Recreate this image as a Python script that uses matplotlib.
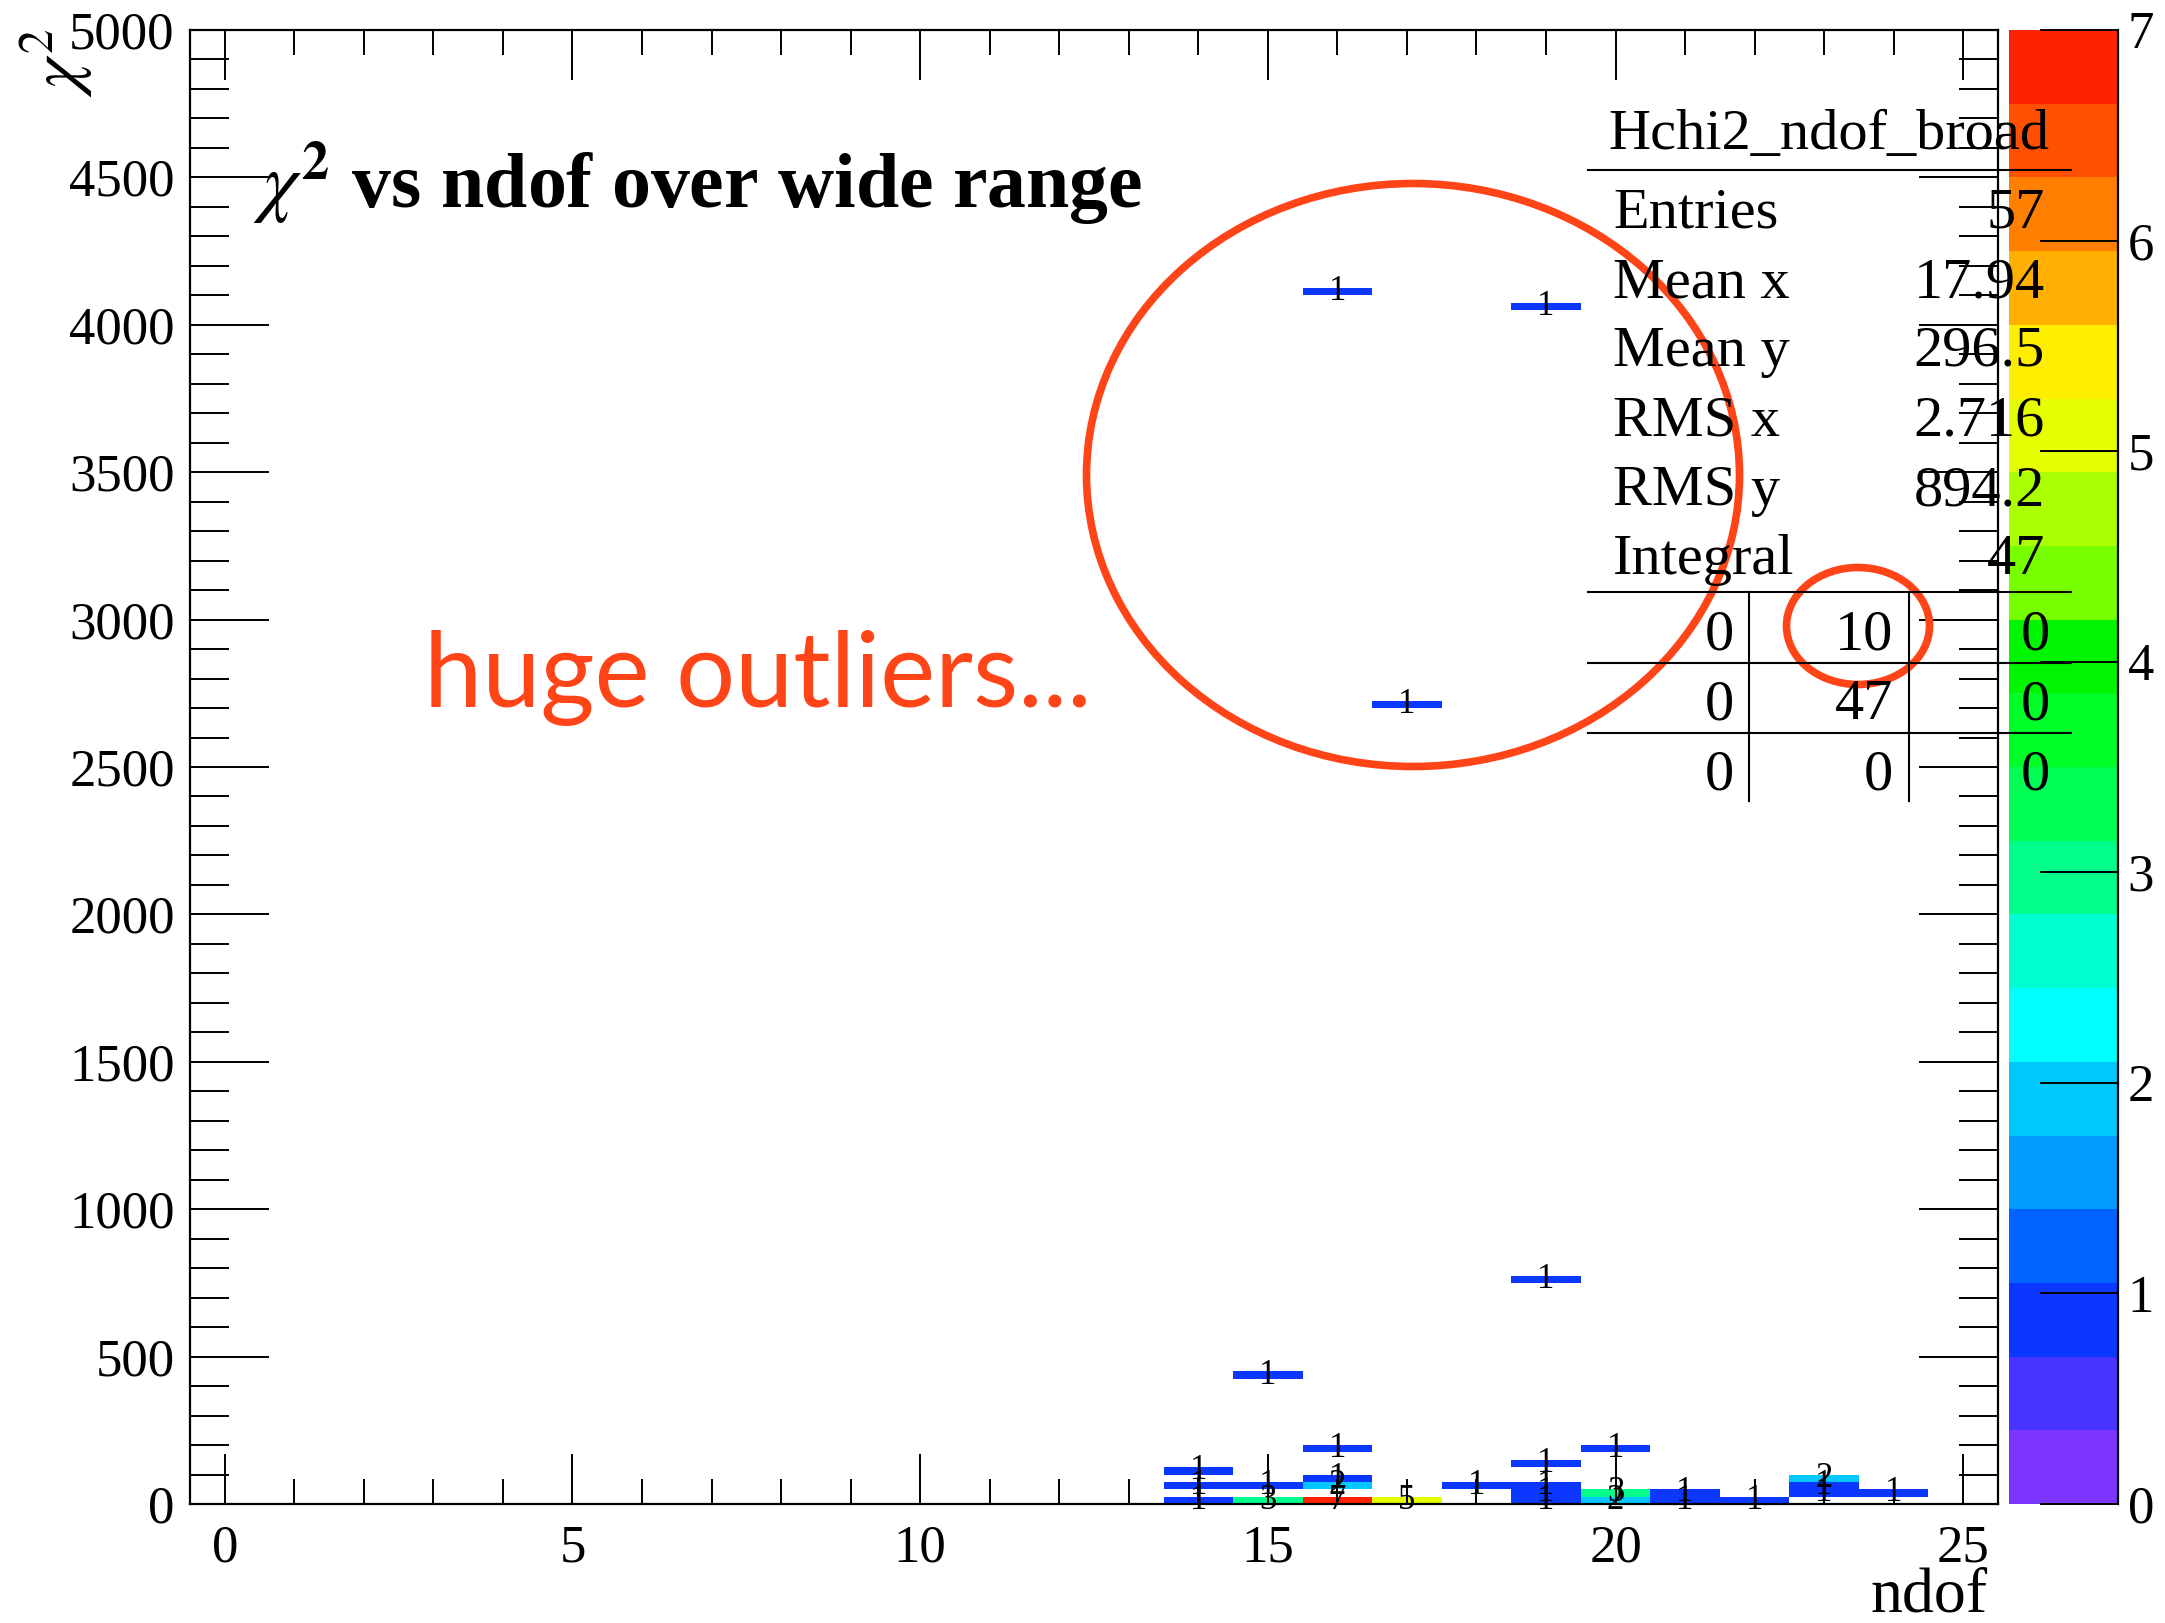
import numpy as np
import matplotlib
matplotlib.use("Agg")
import matplotlib.pyplot as plt
from matplotlib.colors import ListedColormap, BoundaryNorm
from matplotlib.patches import Ellipse
from matplotlib.lines import Line2D
from matplotlib.ticker import MultipleLocator

# ---- histogram content: non-empty (ndof, chi2) cells ----
cell_ndof = [14, 14, 14,
             15, 15, 15,
             16, 16, 16, 16, 16,
             17, 17,
             18,
             19, 19, 19, 19, 19, 19,
             20, 20, 20,
             21, 21,
             22,
             23, 23, 23,
             24]
cell_chi2 = [12.5, 62.5, 112.5,
             12.5, 62.5, 437.5,
             12.5, 62.5, 87.5, 187.5, 4112.5,
             12.5, 2712.5,
             62.5,
             12.5, 37.5, 62.5, 137.5, 762.5, 4062.5,
             12.5, 37.5, 187.5,
             12.5, 37.5,
             12.5,
             37.5, 62.5, 87.5,
             37.5]
cell_count = [1, 1, 1,
              3, 1, 1,
              7, 2, 1, 1, 1,
              5, 1,
              1,
              1, 1, 1, 1, 1, 1,
              2, 3, 1,
              1, 1,
              1,
              1, 1, 2,
              1]

x_ticks = [0, 5, 10, 15, 20, 25]
y_ticks = list(range(0, 5001, 500))
z_ticks = list(range(0, 8))

# statistics box
stats_title = "Hchi2_ndof_broad"
stats_names = ["Entries", "Mean x", "Mean y", "RMS x", "RMS y", "Integral"]
stats_values = ["57", "17.94", "296.5", "2.716", "894.2", "47"]
overflow_table = [["0", "10", "0"],
                  ["0", "47", "0"],
                  ["0", "0", "0"]]

# 20-level rainbow palette (violet -> red)
palette = ["#7b35ff", "#4733ff", "#0b37ff", "#0063ff", "#009cff",
           "#00c8ff", "#00ffff", "#00ffd0", "#00ff8a", "#00ff55",
           "#00ff28", "#00f500", "#77ff00", "#aaff00", "#e5ff00",
           "#ffee00", "#ffb000", "#ff8000", "#ff5000", "#ff2200"]

annot_color = "#ff4518"

# ---- figure geometry (pixels at dpi=100) ----
W, H = 2165, 1623
def fx(px):
    return px / W
def fy(py):
    return 1.0 - py / H

plt.rcParams["font.family"] = ["Liberation Serif", "DejaVu Serif"]
plt.rcParams["mathtext.fontset"] = "stix"

fig = plt.figure(figsize=(W / 100, H / 100), dpi=100)
fig.patch.set_facecolor("white")

ax = fig.add_axes([fx(190), fy(1504), (1998 - 190) / W, (1504 - 30) / H])

x_edges = np.arange(-0.5, 26.0, 1.0)
y_edges = np.linspace(0, 5000, 201)
hist, xe, ye = np.histogram2d(cell_ndof, cell_chi2, bins=[x_edges, y_edges],
                              weights=cell_count)
z = np.ma.masked_where(hist.T == 0, hist.T)

bounds = np.linspace(0, 7, 21)
cmap = ListedColormap(palette)
norm = BoundaryNorm(bounds, ncolors=len(palette), clip=True)
mesh = ax.pcolormesh(xe, ye, z, cmap=cmap, norm=norm, edgecolors="none",
                     antialiased=False, zorder=1)

# cell contents as text
xc = 0.5 * (xe[:-1] + xe[1:])
yc = 0.5 * (ye[:-1] + ye[1:])
for i, j in zip(*np.nonzero(hist)):
    ax.text(xc[i], yc[j], f"{hist[i, j]:g}", ha="center", va="center",
            fontsize=25, color="black", zorder=3)

ax.set_xlim(-0.5, 25.5)
ax.set_ylim(0, 5000)
ax.set_xticks(x_ticks)
ax.set_yticks(y_ticks)
ax.xaxis.set_minor_locator(MultipleLocator(1))
ax.yaxis.set_minor_locator(MultipleLocator(100))
ax.tick_params(axis="x", which="major", direction="in", length=36, width=1.4,
               top=True, bottom=True, pad=15, labelsize=38)
ax.tick_params(axis="x", which="minor", direction="in", length=18, width=1.4,
               top=True, bottom=True)
ax.tick_params(axis="y", which="major", direction="in", length=57, width=1.4,
               left=True, right=True, pad=11, labelsize=38)
ax.tick_params(axis="y", which="minor", direction="in", length=28, width=1.4,
               left=True, right=True)
for sp in ax.spines.values():
    sp.set_linewidth(1.6)

# axis titles
fig.text(fx(1988), fy(1612), "ndof", ha="right", va="baseline", fontsize=46)
fig.text(fx(57), fy(28), r"$\chi^{2}$", rotation=90, ha="center", va="top",
         fontsize=50)

# colour scale
cax = fig.add_axes([fx(2009), fy(1504), (2118 - 2009) / W, (1504 - 30) / H])
cb = fig.colorbar(mesh, cax=cax, ticks=z_ticks)
cb.outline.set_visible(False)
cax.minorticks_off()
cax.tick_params(axis="y", direction="in", length=56, width=1.4, right=True,
                left=False, pad=7, labelsize=38)
cax.plot([1, 1], [0, 1], transform=cax.transAxes, color="black", lw=1.6,
         clip_on=False)

# plot title
fig.text(fx(253), fy(208), r"$\chi^{\mathbf{2}}$ vs ndof over wide range",
         fontsize=56, fontweight="bold", va="baseline", ha="left")

# statistics box (transparent)
fig.text(fx(1829), fy(149), stats_title, ha="center", va="baseline", fontsize=42)
row_base = [228, 297, 366, 436, 505, 574]
for name, val, yb in zip(stats_names, stats_values, row_base):
    fig.text(fx(1613), fy(yb), name, ha="left", va="baseline", fontsize=42)
    fig.text(fx(2045), fy(yb), val, ha="right", va="baseline", fontsize=42)

for yl in [170, 592, 663, 733]:
    fig.add_artist(Line2D([fx(1588), fx(2071)], [fy(yl), fy(yl)],
                          transform=fig.transFigure, color="black", lw=1.5))
for xl in [1749, 1909]:
    fig.add_artist(Line2D([fx(xl), fx(xl)], [fy(592), fy(801)],
                          transform=fig.transFigure, color="black", lw=1.5))
col_right = [1734, 1893, 2050]
tab_base = [649, 719, 790]
for row, yb in zip(overflow_table, tab_base):
    for cell, xr in zip(row, col_right):
        fig.text(fx(xr), fy(yb), cell, ha="right", va="baseline", fontsize=42)

# annotations
fig.text(fx(424), fy(707), "huge outliers...", family=["Lato", "DejaVu Sans"],
         fontsize=75, color=annot_color, ha="left", va="baseline")
fig.add_artist(Ellipse((fx(1413), fy(475)), 653 / W, 583 / H,
                       transform=fig.transFigure, fill=False,
                       edgecolor=annot_color, lw=5.5))
fig.add_artist(Ellipse((fx(1858), fy(626)), 143 / W, 117 / H,
                       transform=fig.transFigure, fill=False,
                       edgecolor=annot_color, lw=5.5))

fig.savefig("out.png", dpi=100, facecolor="white")
